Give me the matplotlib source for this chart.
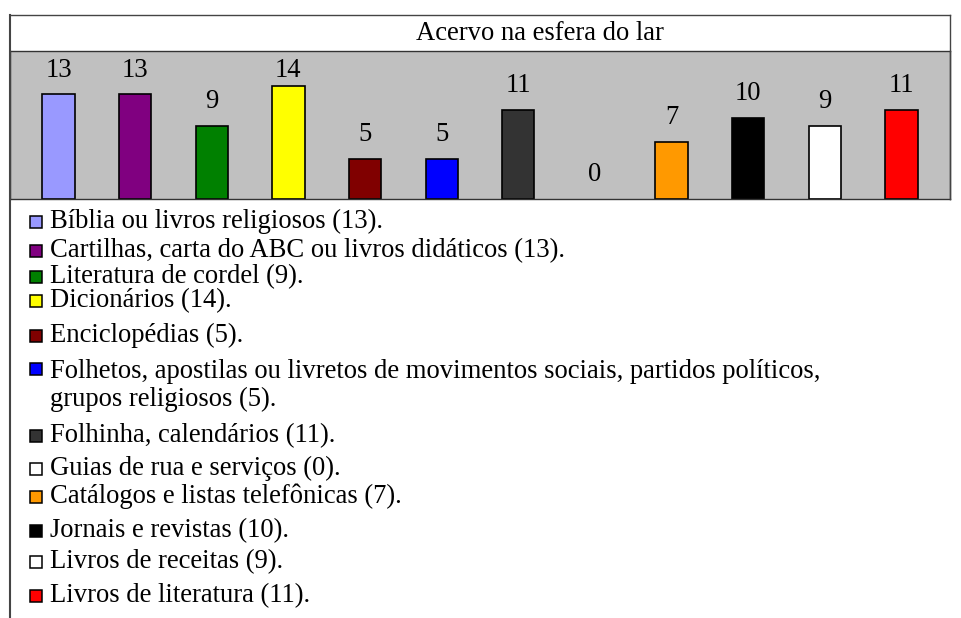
import matplotlib
matplotlib.use("Agg")
import matplotlib.pyplot as plt
from matplotlib.patches import Rectangle
from matplotlib.lines import Line2D
import numpy as np

plt.rcParams['font.family'] = ['Liberation Serif', 'DejaVu Serif']

title = "Acervo na esfera do lar"
categories = [
    "Bíblia ou livros religiosos",
    "Cartilhas, carta do ABC ou livros didáticos",
    "Literatura de cordel",
    "Dicionários",
    "Enciclopédias",
    "Folhetos, apostilas ou livretos de movimentos sociais, partidos políticos,\ngrupos religiosos",
    "Folhinha, calendários",
    "Guias de rua e serviços",
    "Catálogos e listas telefônicas",
    "Jornais e revistas",
    "Livros de receitas",
    "Livros de literatura",
]
values = [13, 13, 9, 14, 5, 5, 11, 0, 7, 10, 9, 11]
colors = ["#9999FF", "#800080", "#008000", "#FFFF00", "#800000", "#0000FF",
          "#333333", "#FFFFFF", "#FF9900", "#000000", "#FFFFFF", "#FF0000"]

W, H = 961, 618
fig = plt.figure(figsize=(W / 100, H / 100), dpi=100)

def fx(px):
    return px / W

def fy(py):
    return 1 - py / H

FS = 19.2

# Plot area
left, right, top, bottom = 10, 950, 51, 199
ymax = 18.3
ppu = (bottom - top) / ymax  # pixels per unit
ax = fig.add_axes([fx(left), fy(bottom), fx(right - left), (bottom - top) / H])
ax.set_facecolor("#C0C0C0")
x = np.arange(len(values))
edges = ["black" if v > 0 else "none" for v in values]
ax.bar(x, values, width=0.42, color=colors, edgecolor=edges, linewidth=1.2)
for xi, v in zip(x, values):
    ly = min(v + 18 / ppu, ymax - 26 / ppu)
    ax.text(xi, ly, str(v), ha="center", va="baseline", fontsize=FS)
ax.set_xlim(-0.633, len(values) - 1 + 0.633)
ax.set_ylim(0, ymax)
ax.set_xticks([])
ax.set_yticks([])
for s in ax.spines.values():
    s.set_color("#333333")
    s.set_linewidth(1.0)

# Outer frame and title row
lc = "#444444"
fig.add_artist(Line2D([fx(left), fx(right)], [fy(15), fy(15)], color=lc, lw=1.0))
fig.add_artist(Line2D([fx(left), fx(left)], [fy(15), fy(618)], color=lc, lw=1.5))
fig.add_artist(Line2D([fx(right), fx(right)], [fy(15), fy(bottom)], color=lc, lw=1.0))
fig.text(fx(540), fy(33), title, ha="center", va="center", fontsize=FS)

# Legend
baselines = [228, 257, 283, 307, 342, 375, 442, 475, 503, 537, 568, 602]
line_gap = 31
msize = 12
for cat, v, c, b in zip(categories, values, colors, baselines):
    fig.add_artist(Rectangle((fx(30), fy(b)), msize / W, msize / H,
                             facecolor=c, edgecolor="black", linewidth=1.1,
                             transform=fig.transFigure))
    nlines = cat.count("\n")
    fig.text(fx(50), fy(b + nlines * line_gap), f"{cat} ({v}).", ha="left",
             va="baseline", fontsize=FS, linespacing=line_gap / (FS * 100 / 72))

fig.savefig("out.png", dpi=100)
